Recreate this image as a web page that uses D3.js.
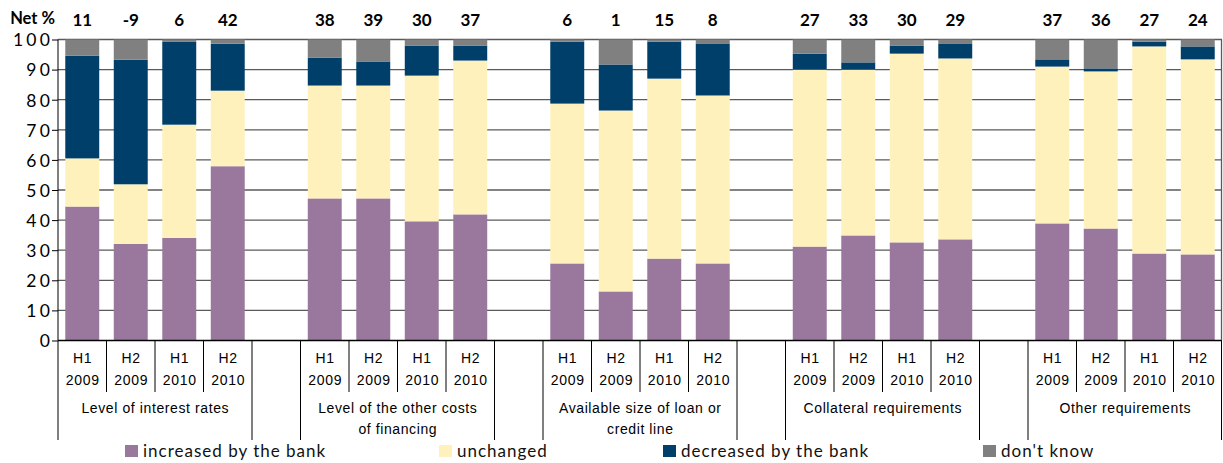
<!DOCTYPE html>
<html>
<head>
<meta charset="utf-8">
<script src="https://cdn.jsdelivr.net/npm/d3@7"></script>
<style>
  html, body { margin: 0; padding: 0; background: #fff; }
  svg { display: block; }
</style>
</head>
<body>
<svg id="chart" width="1223" height="463"></svg>
<script>
// ---------------- data ----------------
const groups = [
  ["Level of interest rates"],
  ["Level of the other costs", "of financing"],
  ["Available size of loan or", "credit line"],
  ["Collateral requirements"],
  ["Other requirements"]
];
const periodsTop = ["H1", "H2", "H1", "H2"];
const periodsBottom = ["2009", "2009", "2010", "2010"];

const increased = [44.5, 32.1, 34.1, 57.9, 47.2, 47.2, 39.6, 41.9, 25.6, 16.3, 27.2, 25.6, 31.2, 34.9, 32.6, 33.6, 38.9, 37.2, 28.9, 28.6];
const unchanged = [16.0, 19.8, 37.6, 25.1, 37.5, 37.5, 48.4, 51.1, 53.1, 60.1, 59.8, 55.8, 58.8, 55.1, 62.7, 60.1, 52.1, 52.2, 68.8, 64.8];
const decreased = [34.1, 41.4, 27.5, 15.6, 9.3, 8.0, 10.0, 5.0, 20.6, 15.3, 12.3, 17.3, 5.3, 2.4, 2.7, 5.0, 2.4, 1.0, 1.6, 4.3];
const dontKnow  = [5.4, 6.7, 0.8, 1.4, 6.0, 7.3, 2.0, 2.0, 0.7, 8.3, 0.7, 1.3, 4.7, 7.6, 2.0, 1.3, 6.6, 9.6, 0.7, 2.3];
const netValues = [11, -9, 6, 42, 38, 39, 30, 37, 6, 1, 15, 8, 27, 33, 30, 29, 37, 36, 27, 24];

const seriesNames = ["increased by the bank", "unchanged", "decreased by the bank", "don't know"];
const seriesColors = ["#9A789E", "#FEF1BC", "#003F6A", "#808080"];
const yTicks = [0, 10, 20, 30, 40, 50, 60, 70, 80, 90, 100];

// ---------------- layout ----------------
const svg = d3.select("#chart");
const plotLeft = 58, plotRight = 1222, plotTop = 39.5, plotBottom = 340.5;
const perGroup = periodsTop.length;
const slotsPerGroup = perGroup + 1;
const nSlots = groups.length * slotsPerGroup - 1;

const slotKeys = d3.range(nSlots);
const x = d3.scaleBand().domain(slotKeys).range([plotLeft, plotRight]).paddingInner(0.3).paddingOuter(0.15);
const step = x.step();
const slotOf = i => Math.floor(i / perGroup) * slotsPerGroup + (i % perGroup);
const slotLeft = s => plotLeft + s * step;

const y = d3.scaleLinear().domain([0, 100]).range([plotBottom, plotTop]);

// build stacked table
const table = increased.map((v, i) => ({
  i, inc: v, unc: unchanged[i], dec: decreased[i], dk: dontKnow[i]
}));
const keys = ["inc", "unc", "dec", "dk"];
const stacked = d3.stack().keys(keys)(table);

// gridlines
svg.append("g").selectAll("line").data(yTicks.filter(t => t > 0)).join("line")
  .attr("x1", plotLeft).attr("x2", plotRight)
  .attr("y1", d => y(d)).attr("y2", d => y(d))
  .attr("stroke", "#5a5a5a").attr("stroke-width", 1.3);

// bars
svg.append("g").selectAll("g").data(stacked).join("g")
  .attr("fill", (d, k) => seriesColors[k])
  .selectAll("rect").data(d => d).join("rect")
  .attr("x", d => x(slotOf(d.data.i)))
  .attr("width", x.bandwidth())
  .attr("y", d => y(d[1]))
  .attr("height", d => y(d[0]) - y(d[1]));

// y axis
const yAxis = d3.axisLeft(y).tickValues(yTicks).tickSize(6).tickFormat(d3.format("d"));
const yg = svg.append("g").attr("transform", `translate(${plotLeft},0)`).call(yAxis);
yg.select(".domain").remove();
yg.selectAll(".tick line").attr("stroke", "#000");
yg.selectAll(".tick text")
  .attr("x", -5)
  .attr("font-family", "Lato, 'Open Sans', sans-serif")
  .attr("font-size", "17.5px")
  .attr("letter-spacing", "3.2px")
  .attr("fill", "#000")
  .attr("dy", "0.36em");

// axis lines
svg.append("line").attr("x1", plotLeft).attr("x2", plotLeft).attr("y1", plotTop).attr("y2", plotBottom)
  .attr("stroke", "#000").attr("stroke-width", 1);
svg.append("line").attr("x1", plotLeft).attr("x2", plotRight).attr("y1", plotBottom).attr("y2", plotBottom)
  .attr("stroke", "#000").attr("stroke-width", 1.3);
svg.append("line").attr("x1", plotRight - 0.5).attr("x2", plotRight - 0.5).attr("y1", plotTop).attr("y2", plotBottom)
  .attr("stroke", "#5a5a5a").attr("stroke-width", 1.3);

// category separators below axis
const boundaries = d3.range(nSlots + 1);
const isGroupEdge = b => (b % slotsPerGroup === 0) || (b % slotsPerGroup === perGroup);
svg.append("g").selectAll("line").data(boundaries).join("line")
  .attr("x1", b => Math.min(slotLeft(b), plotRight - 0.5))
  .attr("x2", b => Math.min(slotLeft(b), plotRight - 0.5))
  .attr("y1", plotBottom)
  .attr("y2", b => isGroupEdge(b) ? 440 : 392)
  .attr("stroke", "#000").attr("stroke-width", 1);

// period labels
const labelFont = "'Liberation Sans', Arial, sans-serif";
const barIdx = d3.range(increased.length);
svg.append("g").selectAll("text").data(barIdx).join("text")
  .attr("x", i => x(slotOf(i)) + x.bandwidth() / 2 + 0.4)
  .attr("y", 363)
  .attr("text-anchor", "middle")
  .attr("font-family", labelFont).attr("font-size", "14px").attr("letter-spacing", "0.7px")
  .text(i => periodsTop[i % perGroup]);
svg.append("g").selectAll("text").data(barIdx).join("text")
  .attr("x", i => x(slotOf(i)) + x.bandwidth() / 2 + 0.4)
  .attr("y", 385)
  .attr("text-anchor", "middle")
  .attr("font-family", labelFont).attr("font-size", "14px").attr("letter-spacing", "0.7px")
  .text(i => periodsBottom[i % perGroup]);

// group labels
const gl = svg.append("g").selectAll("text").data(groups).join("text")
  .attr("text-anchor", "middle")
  .attr("font-family", labelFont).attr("font-size", "14px").attr("letter-spacing", "0.6px");
gl.each(function(lines, g) {
  const cx = slotLeft(g * slotsPerGroup) + step * perGroup / 2 + 0.3;
  d3.select(this).selectAll("tspan").data(lines).join("tspan")
    .attr("x", cx).attr("y", (d, k) => 413 + k * 21).text(d => d);
});

// net values
svg.append("g").selectAll("text").data(netValues).join("text")
  .attr("x", (d, i) => x(slotOf(i)) + x.bandwidth() / 2)
  .attr("y", 26)
  .attr("text-anchor", "middle")
  .attr("font-family", "Lato, 'Open Sans', sans-serif")
  .attr("font-weight", "bold").attr("font-size", "17px")
  .text(d => d);
svg.append("text").attr("x", 55).attr("y", 24).attr("text-anchor", "end")
  .attr("font-family", "Lato, 'Open Sans', sans-serif")
  .attr("font-weight", "bold").attr("font-size", "16.5px")
  .text("Net %");

// legend
const legendX = [125, 439, 663, 983];
const lg = svg.append("g").selectAll("g").data(seriesNames).join("g")
  .attr("transform", (d, k) => `translate(${legendX[k]},445)`);
lg.append("rect").attr("width", 13).attr("height", 12).attr("fill", (d, k) => seriesColors[k]);
lg.append("text").attr("x", 18).attr("y", 12)
  .attr("font-family", "Lato, 'Open Sans', sans-serif").attr("font-size", "17px")
  .attr("letter-spacing", "1px").attr("fill", "#111")
  .text(d => d);
</script>
</body>
</html>
